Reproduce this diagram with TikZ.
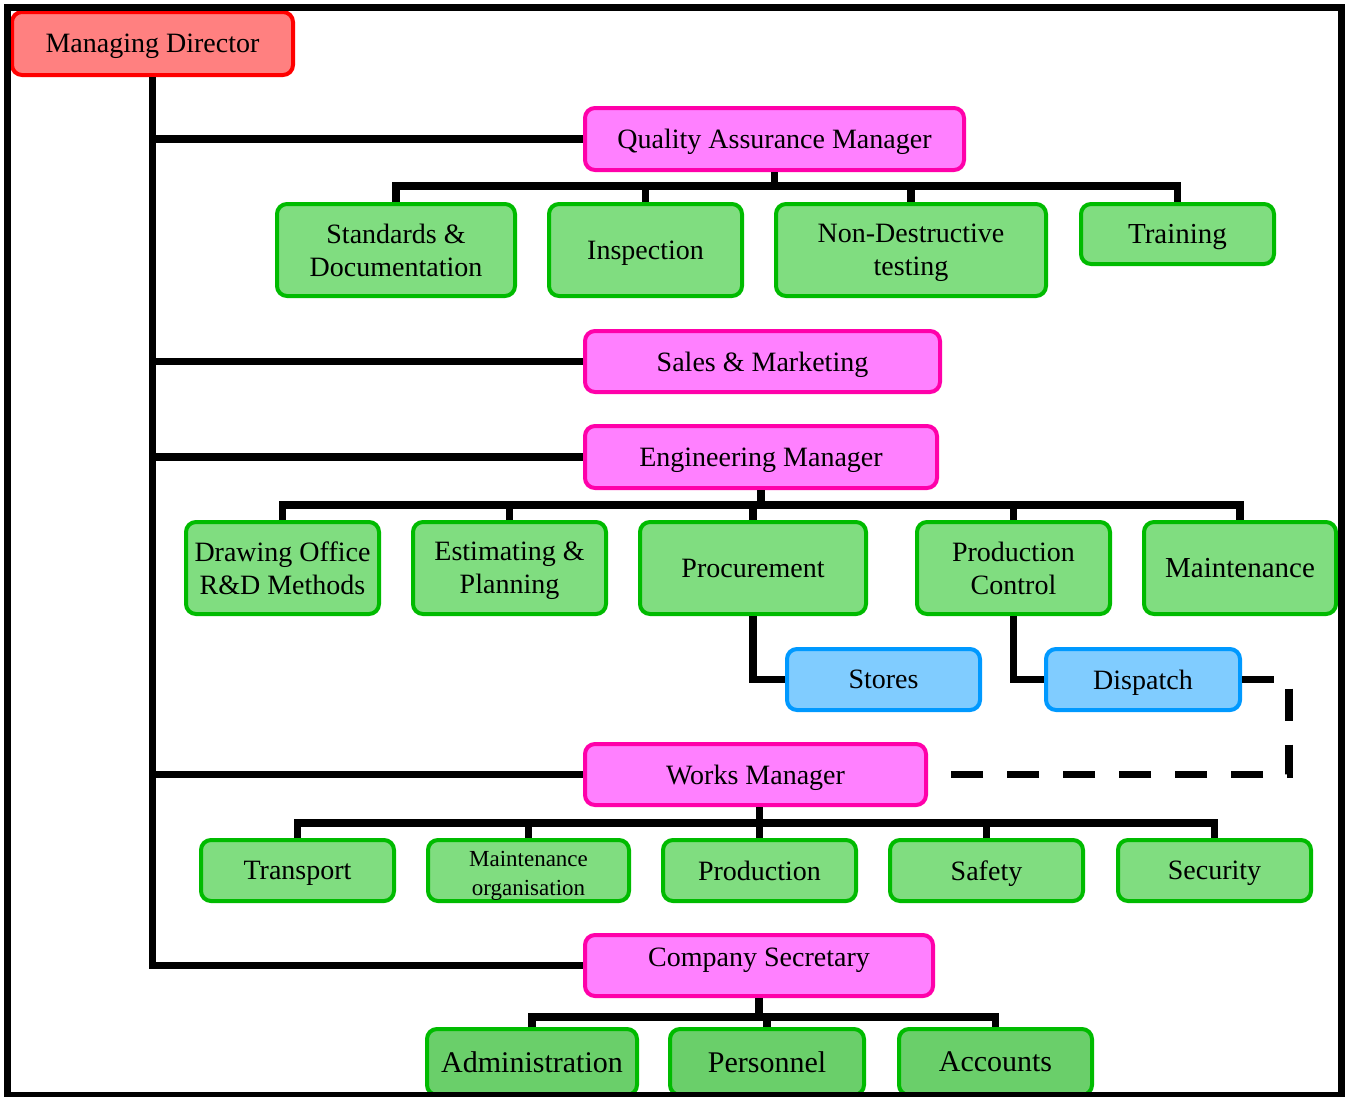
\documentclass[tikz,border=0pt]{standalone}
\usepackage{fontspec}
\setmainfont{Liberation Serif}
\definecolor{mdfill}{HTML}{FF8080}
\definecolor{mdline}{HTML}{FF0000}
\definecolor{pkfill}{HTML}{FF80FF}
\definecolor{pkline}{HTML}{FF00AA}
\definecolor{gnfill}{HTML}{80DD80}
\definecolor{gnline}{HTML}{00BB00}
\definecolor{gnfilld}{HTML}{6ACF6A}
\definecolor{blfill}{HTML}{80CCFF}
\definecolor{blline}{HTML}{0099FF}
\tikzset{
  box/.style={rectangle, rounded corners=10pt, line width=4pt, inner sep=0pt,
    align=center, text=black, text depth=0pt, font=\fontsize{28}{33}\selectfont},
  mdbox/.style={box, draw=mdline, fill=mdfill},
  pkbox/.style={box, draw=pkline, fill=pkfill},
  gnbox/.style={box, draw=gnline, fill=gnfill},
  gnboxd/.style={box, draw=gnline, fill=gnfilld, font=\fontsize{30}{36}\selectfont},
  blbox/.style={box, draw=blline, fill=blfill},
  conn/.style={draw=black, line width=7.5pt},
  wh/.style 2 args={minimum width=#1pt, minimum height=#2pt}
}
\begin{document}
\begin{tikzpicture}[x=1pt,y=-1pt]
\useasboundingbox (0,0) rectangle (1350,1096);
\clip (0,0) rectangle (1350,1096);
\fill[white] (0,0) rectangle (1350,1096);

% nodes
\node[mdbox, wh={281}{63}] (md) at (152.5,43.5) {Managing Director};

\node[pkbox, wh={379}{62}] (qam) at (774.5,139) {Quality Assurance Manager};
\node[pkbox, wh={355}{61}] (sales) at (762.5,361.5) {Sales \& Marketing};
\node[pkbox, wh={352}{62}] (em) at (761,457) {Engineering Manager};
\node[pkbox, wh={341}{61}] (works) at (755.5,774.5) {Works Manager};
\node[pkbox, wh={348}{61}, text depth=17pt] (cs) at (759,965.5) {Company Secretary};

\node[gnbox, wh={238}{92}] (std) at (396,250) {Standards \&\\Documentation};
\node[gnbox, wh={193}{92}] (insp) at (645.5,250) {Inspection};
\node[gnbox, wh={270}{92}] (ndt) at (911,250) {Non-Destructive\\testing};
\node[gnbox, wh={193}{60}, font=\fontsize{29}{33}\selectfont] (train) at (1177.5,234) {Training};

\node[gnbox, wh={193}{92}] (dro) at (282.5,568) {Drawing Office\\R\&D Methods};
\node[gnbox, wh={193}{92}] (est) at (509.5,568) {Estimating \&\\Planning};
\node[gnbox, wh={226}{92}] (proc) at (753,568) {Procurement};
\node[gnbox, wh={193}{92}] (pc) at (1013.5,568) {Production\\Control};
\node[gnbox, wh={192}{92}, font=\fontsize{29}{33}\selectfont] (maint) at (1240,568) {Maintenance};

\node[blbox, wh={193}{61}] (stores) at (883.5,679.5) {Stores};
\node[blbox, wh={194}{61}] (disp) at (1143,679.5) {Dispatch};

\node[gnbox, wh={193}{61}] (trans) at (297.5,870.5) {Transport};
\node[gnbox, wh={201}{61}, font=\fontsize{23}{29}\selectfont, text height=49pt] (mo) at (528.5,870.5) {Maintenance\\organisation};
\node[gnbox, wh={193}{61}] (prod) at (759.5,870.5) {Production};
\node[gnbox, wh={193}{61}] (safe) at (986.5,870.5) {Safety};
\node[gnbox, wh={193}{61}] (secu) at (1214.5,870.5) {Security};

\node[gnboxd, wh={210}{66}] (admin) at (532,1062) {Administration};
\node[gnboxd, wh={194}{66}] (pers) at (767,1062) {Personnel};
\node[gnboxd, wh={193}{66}] (acc) at (995.5,1062) {Accounts};

% trunk and branches
\draw[conn] (md.south) -- (md.south |- cs.west) -- (cs.west);
\draw[conn] (md.south |- qam.west) -- (qam.west);
\draw[conn] (md.south |- sales.west) -- (sales.west);
\draw[conn] (md.south |- em.west) -- (em.west);
\draw[conn] (md.south |- works.west) -- (works.west);

% QAM bus
\draw[conn] (std.north) -- (std.north |- 0,186) -- (train.north |- 0,186) -- (train.north);
\draw[conn] (qam.south) -- (qam.south |- 0,186);
\draw[conn] (insp.north) -- (insp.north |- 0,186);
\draw[conn] (ndt.north) -- (ndt.north |- 0,186);

% EM bus
\draw[conn] (dro.north) -- (dro.north |- 0,505) -- (maint.north |- 0,505) -- (maint.north);
\draw[conn] (em.south) -- (em.south |- 0,505);
\draw[conn] (est.north) -- (est.north |- 0,505);
\draw[conn] (proc.north) -- (proc.north |- 0,505);
\draw[conn] (pc.north) -- (pc.north |- 0,505);

% sub-units
\draw[conn] (proc.south) |- (stores.west);
\draw[conn] (pc.south) |- (disp.west);
\coordinate (dc) at (1289,679.5);
\draw[conn, dash pattern=on 32pt off 24pt] (disp.east) -- (dc) |- (works.east);

% Works bus
\draw[conn] (trans.north) -- (trans.north |- 0,823) -- (secu.north |- 0,823) -- (secu.north);
\draw[conn] (prod.north |- works.south) -- (prod.north |- 0,823);
\draw[conn] (mo.north) -- (mo.north |- 0,823);
\draw[conn] (prod.north) -- (prod.north |- 0,823);
\draw[conn] (safe.north) -- (safe.north |- 0,823);

% CS bus
\draw[conn] (admin.north) -- (admin.north |- 0,1017) -- (acc.north |- 0,1017) -- (acc.north);
\draw[conn] (cs.south) -- (cs.south |- 0,1017);
\draw[conn] (pers.north) -- (pers.north |- 0,1017);

% frame
\draw[line width=7pt] (7,7) rectangle (1341,1095);
\end{tikzpicture}
\end{document}
